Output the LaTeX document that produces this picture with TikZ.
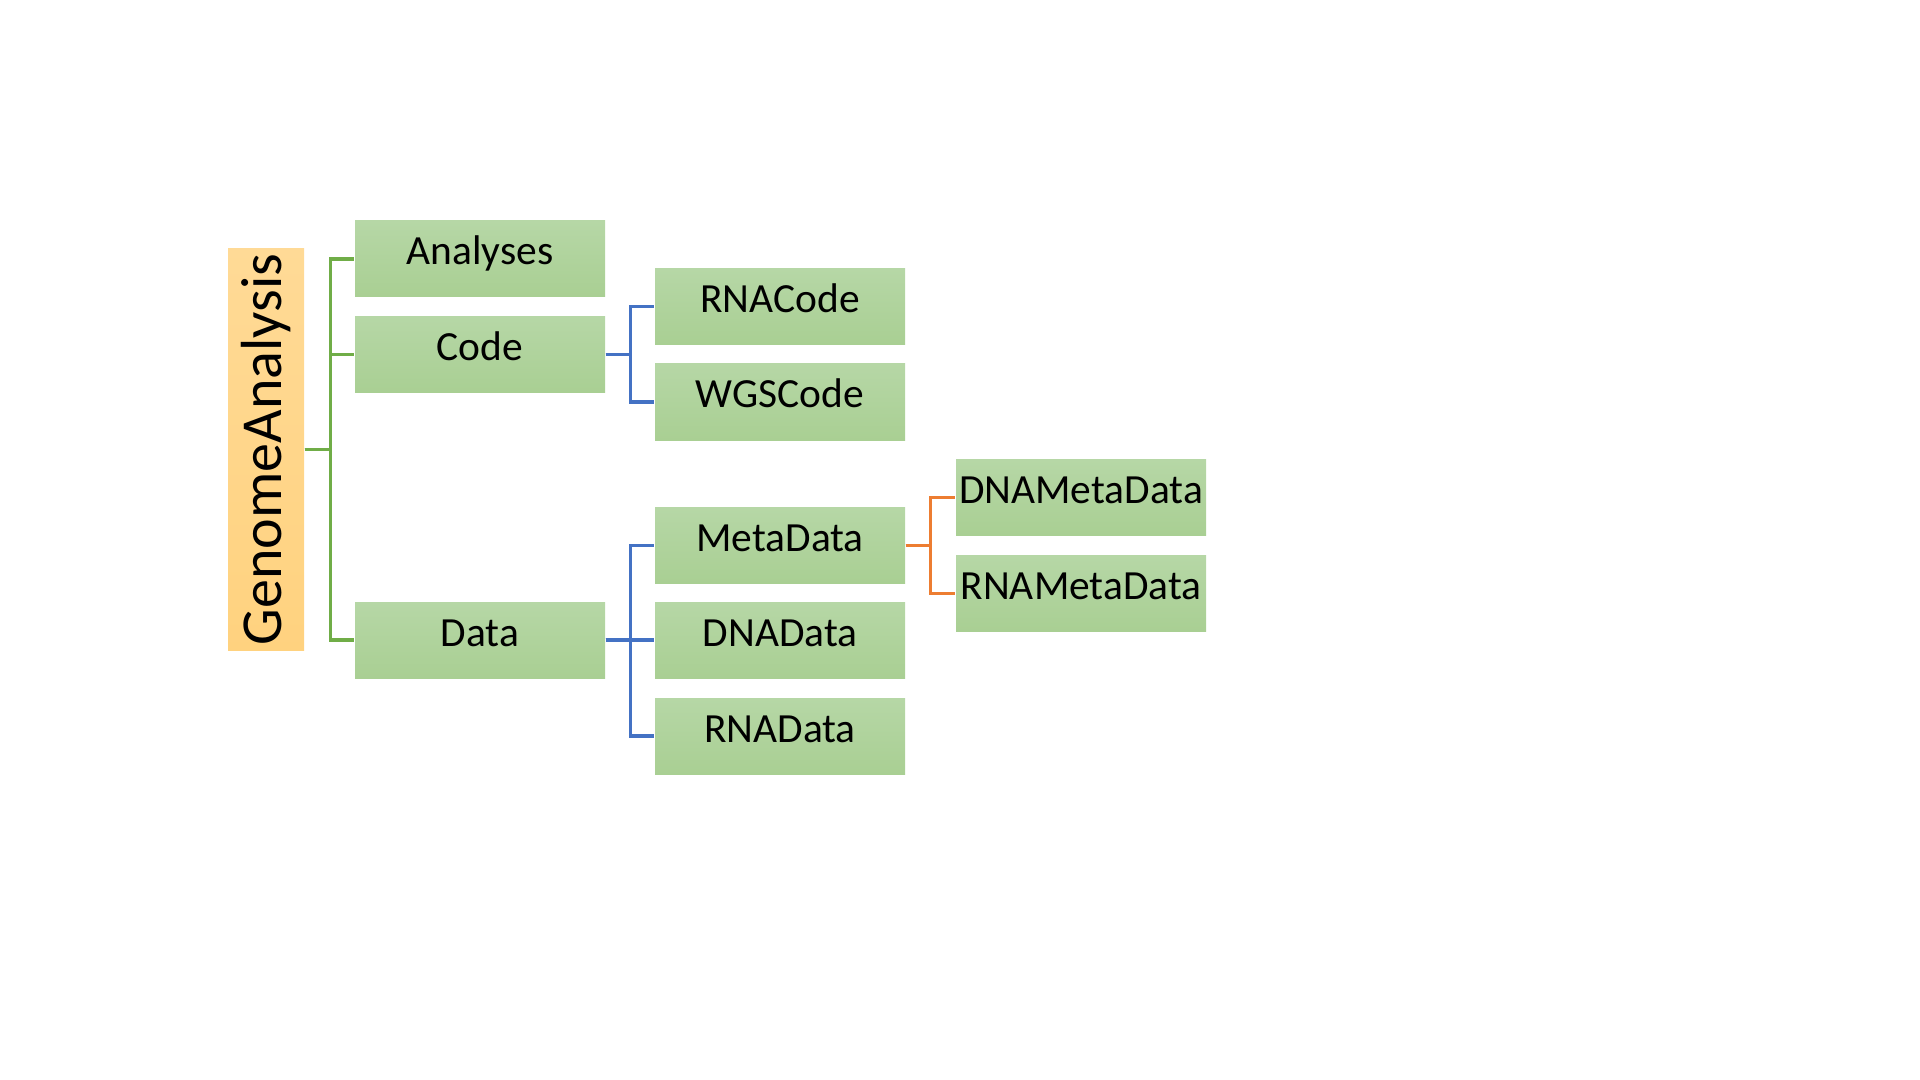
\documentclass[tikz,border=0pt]{standalone}
\usepackage{fontspec}
\setmainfont{Carlito}

\definecolor{boxtop}{HTML}{B6D7A6}
\definecolor{boxbot}{HTML}{A9CF93}
\definecolor{roottop}{HTML}{FFDA96}
\definecolor{rootbot}{HTML}{FFD27F}
\definecolor{linegreen}{HTML}{70AD47}
\definecolor{lineblue}{HTML}{4472C4}
\definecolor{lineorange}{HTML}{ED7D31}

\begin{document}
\begin{tikzpicture}[
    leaf/.style={rectangle, top color=boxtop, bottom color=boxbot, inner sep=0pt,
        minimum width=2.5cm, minimum height=0.76cm, text height=0.28cm, text depth=0.16cm,
        font=\fontsize{11.8}{13}\selectfont},
    rootbox/.style={rectangle, top color=roottop, bottom color=rootbot, inner sep=0pt,
        minimum width=0.76cm, minimum height=4.01cm, font=\fontsize{16.5}{19}\selectfont},
    branch/.style={line width=0.9pt}
]
    \useasboundingbox (0,0) rectangle (19.2,-10.8);

    % -- Wurzel --
    \node[rootbox] (genome) at (2.66,-4.495) {\rotatebox{90}{GenomeAnalysis}};

    % -- erste Ebene --
    \node[leaf] (analyses) at (4.80,-2.59) {Analyses};
    \node[leaf] (code)     at (4.80,-3.545) {Code};
    \node[leaf] (data)     at (4.80,-6.40) {Data};

    % -- zweite Ebene --
    \node[leaf] (rnacode)  at (7.80,-3.065) {RNACode};
    \node[leaf] (wgscode)  at (7.80,-4.02) {WGSCode};
    \node[leaf] (metadata) at (7.80,-5.455) {MetaData};
    \node[leaf] (dnadata)  at (7.80,-6.40) {DNAData};
    \node[leaf] (rnadata)  at (7.80,-7.36) {RNAData};

    % -- dritte Ebene --
    \node[leaf] (dnameta) at (10.81,-4.975) {DNAMetaData};
    \node[leaf] (rnameta) at (10.81,-5.935) {RNAMetaData};

    % -- Verbindungen (gruen) --
    \draw[branch, linegreen] (genome.east) -- ++(0.26,0) |- (analyses.west);
    \draw[branch, linegreen] (genome.east) -- ++(0.26,0) |- (code.west);
    \draw[branch, linegreen] (genome.east) -- ++(0.26,0) |- (data.west);

    % -- Verbindungen (blau) --
    \draw[branch, lineblue] (code.east) -- ++(0.25,0) |- (rnacode.west);
    \draw[branch, lineblue] (code.east) -- ++(0.25,0) |- (wgscode.west);
    \draw[branch, lineblue] (data.east) -- ++(0.25,0) |- (metadata.west);
    \draw[branch, lineblue] (data.east) -- ++(0.25,0) |- (dnadata.west);
    \draw[branch, lineblue] (data.east) -- ++(0.25,0) |- (rnadata.west);

    % -- Verbindungen (orange) --
    \draw[branch, lineorange] (metadata.east) -- ++(0.25,0) |- (dnameta.west);
    \draw[branch, lineorange] (metadata.east) -- ++(0.25,0) |- (rnameta.west);
\end{tikzpicture}
\end{document}
